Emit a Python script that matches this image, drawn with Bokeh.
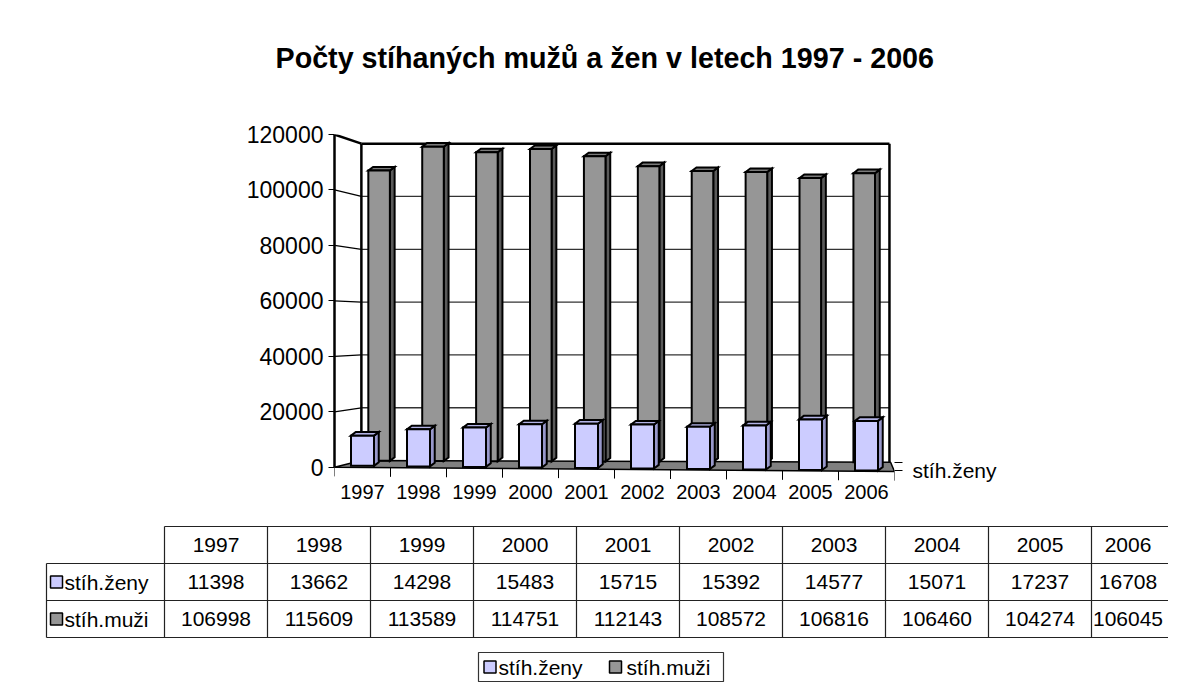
import numpy as np
from bokeh.plotting import figure
from bokeh.models import Range1d, LinearAxis, FixedTicker, Title, BasicTickFormatter
from bokeh.embed import file_html
from bokeh.resources import INLINE
from bokeh.core.properties import value

# ---------------- data ----------------
title_text = "Počty stíhaných mužů a žen v letech 1997 - 2006"
years = ["1997", "1998", "1999", "2000", "2001", "2002", "2003", "2004", "2005", "2006"]
zeny = [11398, 13662, 14298, 15483, 15715, 15392, 14577, 15071, 17237, 16708]
muzi = [106998, 115609, 113589, 114751, 112143, 108572, 106816, 106460, 104274, 106045]
series_names = ["stíh.ženy", "stíh.muži"]
y_ticks = [0, 20000, 40000, 60000, 80000, 100000, 120000]

# ---------------- style ----------------
FONT = "Liberation Sans"
F_FRONT, F_SIDE, F_TOP = "#ccccff", "#9999cc", "#b3b3e6"
M_FRONT, M_SIDE, M_TOP = "#969696", "#5a5a5a", "#7a7a7a"
W = 1168
HA = 515
HB = 167

n = len(years)
idx = np.arange(n)
PX = 56.0  # pixels per category

# ---------------- chart figure ----------------
pA = figure(width=W, height=HA, x_range=Range1d(0, 10), y_range=Range1d(-5500, 120000),
            output_backend="svg", toolbar_location=None,
            x_axis_location=None, y_axis_location=None,
            min_border_left=334, min_border_right=W - 894, min_border_top=134, min_border_bottom=33)
pA.outline_line_color = None
pA.grid.visible = False

# a second (blank) line gives the title box extra height so the text sits higher
t = Title(text=title_text + "\n ", align="left", vertical_align="top", text_font=FONT,
          text_font_size="28.7px", text_font_style="bold", text_color="black",
          offset=-59, standoff=54)
pA.add_layout(t, "above")

# back wall
WL, WR, WB, WT = 0.48, 9.91, 2400, 116700
pA.patch([WL, WR, WR, WL], [WB, 1800, WT, WT], fill_color="white", line_color=None)

def wall(v):
    return WB + v * (WT - WB) / 120000.0

gl = np.array(y_ticks[1:-1], dtype=float)
pA.segment(x0=np.zeros(len(gl)), y0=gl, x1=np.full(len(gl), WL), y1=wall(gl),
           line_color="black", line_width=1.3)
pA.segment(x0=np.full(len(gl), WL), y0=wall(gl), x1=np.full(len(gl), WR), y1=wall(gl),
           line_color="#333333", line_width=1.3)
pA.segment(x0=[0, WL, WL, WR], y0=[120000, WT, WB, 1800], x1=[WL, WR, WL, WR], y1=[WT, WT, WT, WT],
           line_color="black", line_width=2.5)

# floor
pA.patch([0, 10, 9.93, WL], [0, -1550, 1800, WB], fill_color="#808080",
         line_color="black", line_width=1.5)
bx = np.arange(0, n + 1, dtype=float)
pA.segment(x0=bx, y0=-155 * bx, x1=bx, y1=-155 * bx - 3300, line_color="black", line_width=1)

dx, dy = 0.085, 1300

def faces(cx, w, base, top):
    L, R = cx - w / 2, cx + w / 2
    fr = ([list(a) for a in zip(L, R, R, L)], [list(a) for a in zip(base, base, top, top)])
    sd = ([list(a) for a in zip(R, R + dx, R + dx, R)],
          [list(a) for a in zip(base, base + dy, top + dy, top)])
    tp = ([list(a) for a in zip(L, L + dx, R + dx, R)],
          [list(a) for a in zip(top, top + dy, top + dy, top)])
    return fr, sd, tp

def draw(cx, w, base, vals, cf, cs, ct):
    fr, sd, tp = faces(cx, w, base, np.array(vals, dtype=float))
    pA.patches(sd[0], sd[1], fill_color=cs, line_color="black", line_width=2, line_join="miter")
    pA.patches(tp[0], tp[1], fill_color=ct, line_color="black", line_width=2, line_join="miter")
    pA.patches(fr[0], fr[1], fill_color=cf, line_color="black", line_width=2, line_join="miter")

m_center = idx + 0.5 + (16.6 - 2.1 * idx) / PX
f_center = idx + 0.5
draw(m_center, 0.385, 2300 - 60 * idx, muzi, M_FRONT, M_SIDE, M_TOP)
draw(f_center, 0.41, 500 - 190 * idx, zeny, F_FRONT, F_SIDE, F_TOP)

# axes
yax = LinearAxis(ticker=FixedTicker(ticks=y_ticks), bounds=(0, 120000),
                 formatter=BasicTickFormatter(use_scientific=False),
                 axis_line_width=2.5, axis_line_color="black",
                 major_tick_out=6, major_tick_in=0, minor_tick_out=0, minor_tick_in=0,
                 major_label_text_font=FONT, major_label_text_font_size="23px",
                 major_label_text_color="black", major_label_standoff=5)
pA.add_layout(yax, "left")

centers = [i + 0.5 for i in range(n)]
xax = LinearAxis(ticker=FixedTicker(ticks=centers),
                 major_label_overrides={c: y for c, y in zip(centers, years)},
                 axis_line_color=None, major_tick_out=0, major_tick_in=0,
                 minor_tick_out=0, minor_tick_in=0,
                 major_label_text_font=FONT, major_label_text_font_size="20px",
                 major_label_text_color="black", major_label_standoff=2)
pA.add_layout(xax, "below")

rax = LinearAxis(ticker=FixedTicker(ticks=[-1200, 1800]),
                 major_label_overrides={-1200: series_names[0], 1800: ""},
                 axis_line_color=None, major_tick_out=8, major_tick_in=0,
                 minor_tick_out=0, minor_tick_in=0, major_tick_line_color="black",
                 major_label_text_font=FONT, major_label_text_font_size="21px",
                 major_label_text_color="black", major_label_standoff=10)
pA.add_layout(rax, "right")

# ---------------- table figure ----------------
COLW = 103.0
ROWH = 37.0
x0_ref = 164.0
y0_ref = 526.0
xs0 = (0 - x0_ref) / COLW
xs1 = (W - x0_ref) / COLW
ys_top = (HA - y0_ref) / ROWH
ys_bot = (HA + HB - y0_ref) / ROWH
pB = figure(width=W, height=HB, x_range=Range1d(xs0, xs1), y_range=Range1d(ys_bot, ys_top),
            output_backend="svg", toolbar_location=None,
            x_axis_location=None, y_axis_location=None, min_border=0)
pB.outline_line_color = None
pB.grid.visible = False

LBL = (46 - x0_ref) / COLW
END = n + 0.5
LC = "#222222"
pB.segment(x0=[0, LBL, LBL, LBL], y0=[0, 1, 2, 3], x1=[END] * 4, y1=[0, 1, 2, 3],
           line_color=LC, line_width=1.2)
vx = np.arange(0, n + 1, dtype=float)
pB.segment(x0=vx, y0=np.zeros(n + 1), x1=vx, y1=np.full(n + 1, 3.0), line_color=LC, line_width=1.2)
pB.segment(x0=[LBL], y0=[1], x1=[LBL], y1=[3], line_color=LC, line_width=1.2)

# cell text centred in the visible part of each cell
cell_c = [(i + min(i + 1.0, xs1 - 4 / COLW)) / 2 for i in range(n)]
TS = "21px"
pB.text(x=cell_c, y=[0.5] * n, text=years, text_font=value(FONT), text_font_size=TS,
        text_align="center", text_baseline="middle", text_color="black")
pB.text(x=cell_c, y=[1.5] * n, text=[str(v) for v in zeny], text_font=value(FONT), text_font_size=TS,
        text_align="center", text_baseline="middle", text_color="black")
pB.text(x=cell_c, y=[2.5] * n, text=[str(v) for v in muzi], text_font=value(FONT), text_font_size=TS,
        text_align="center", text_baseline="middle", text_color="black")

mk = LBL + 10 / COLW
pB.scatter(x=[mk, mk], y=[1.5, 2.5], marker="square", size=12, fill_color=[F_FRONT, M_FRONT],
           line_color="black", line_width=1.5)
pB.text(x=[LBL + 18 / COLW] * 2, y=[1.5, 2.5], text=series_names, text_font=value(FONT),
        text_font_size=TS, text_align="left", text_baseline="middle", text_color="black")

# legend box
lx0, lx1 = (478 - x0_ref) / COLW, (723 - x0_ref) / COLW
ly0, ly1 = (652 - y0_ref) / ROWH, (681 - y0_ref) / ROWH
pB.quad(left=[lx0], right=[lx1], bottom=[ly1], top=[ly0], fill_color="white",
        line_color="#333333", line_width=1.2)
lyc = (ly0 + ly1) / 2
lmx = [(489.5 - x0_ref) / COLW, (615 - x0_ref) / COLW]
pB.scatter(x=lmx, y=[lyc, lyc], marker="square", size=12, fill_color=[F_FRONT, M_FRONT],
           line_color="black", line_width=1.5)
pB.text(x=[(498 - x0_ref) / COLW, (626 - x0_ref) / COLW], y=[lyc, lyc], text=series_names,
        text_font=value(FONT), text_font_size=TS, text_align="left", text_baseline="middle",
        text_color="black")

open("out.html", "w").write(file_html([pA, pB], INLINE))
